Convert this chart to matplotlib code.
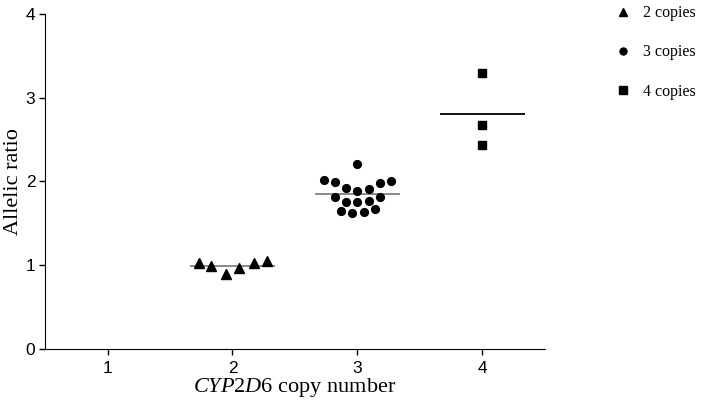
import matplotlib
matplotlib.use('Agg')
import matplotlib.pyplot as plt
import numpy as np

# values
copies2_x = [1.73, 1.83, 1.95, 2.05, 2.17, 2.28]
copies2_y = [1.03, 0.99, 0.89, 0.97, 1.02, 1.05]

copies3_x = [3.00, 2.73, 2.82, 3.18, 3.27, 2.91, 3.00, 3.09,
             2.82, 2.91, 3.00, 3.09, 3.18, 2.87, 2.96, 3.05, 3.14]
copies3_y = [2.21, 2.02, 1.99, 1.98, 2.00, 1.92, 1.89, 1.91,
             1.81, 1.76, 1.75, 1.77, 1.81, 1.65, 1.62, 1.64, 1.67]

copies4_x = [4.0, 4.0, 4.0]
copies4_y = [3.30, 2.67, 2.43]

group_pos = [2, 3, 4]
labels = ['2 copies', '3 copies', '4 copies']
x_ticks = [1, 2, 3, 4]
y_ticks = [0, 1, 2, 3, 4]

plt.rcParams['mathtext.fontset'] = 'custom'
plt.rcParams['mathtext.it'] = 'Liberation Serif:italic'
plt.rcParams['mathtext.rm'] = 'Liberation Serif'

fig = plt.figure(figsize=(7.04, 4.01), dpi=100)
ax = fig.add_axes([0.064, 0.130, 0.710, 0.835])

h1, = ax.plot(copies2_x, copies2_y, '^', color='black', markersize=6.5, linestyle='none', label=labels[0])
h2, = ax.plot(copies3_x, copies3_y, 'o', color='black', markersize=5.6, linestyle='none', label=labels[1])
h3, = ax.plot(copies4_x, copies4_y, 's', color='black', markersize=5.8, linestyle='none', label=labels[2])

# mean lines
means = [np.mean(copies2_y), np.mean(copies3_y), np.mean(copies4_y)]
line_cols = ['#808080', '#808080', 'black']
for pos, m, c in zip(group_pos, means, line_cols):
    ax.hlines(m, pos - 0.34, pos + 0.34, color=c, linewidth=1.3, zorder=1)

ax.set_xlim(0.5, 4.5)
ax.set_ylim(0, 4)
ax.set_xticks(x_ticks)
ax.set_yticks(y_ticks)
ax.spines['top'].set_visible(False)
ax.spines['right'].set_visible(False)
ax.tick_params(direction='out', length=4, width=1, labelsize=12.5, pad=3)
ax.tick_params(axis='x', pad=5)
for lab in ax.get_xticklabels() + ax.get_yticklabels():
    lab.set_family('Liberation Sans')

ax.set_ylabel('Allelic ratio', family='Liberation Serif', fontsize=16)
ax.yaxis.set_label_coords(-0.044, 0.5)
ax.set_xlabel(r'$\mathit{CYP2D6}$ copy number', family='Liberation Serif', fontsize=16, labelpad=0)

fig.legend(handles=[h1, h2, h3], loc='upper left', bbox_to_anchor=(0.873, 0.987),
           frameon=False, prop={'family': 'Liberation Serif', 'size': 11.5},
           handlelength=1.0, handletextpad=0.8, labelspacing=1.45, borderpad=0,
           borderaxespad=0, markerscale=0.9)

fig.savefig('out.png', dpi=100)
